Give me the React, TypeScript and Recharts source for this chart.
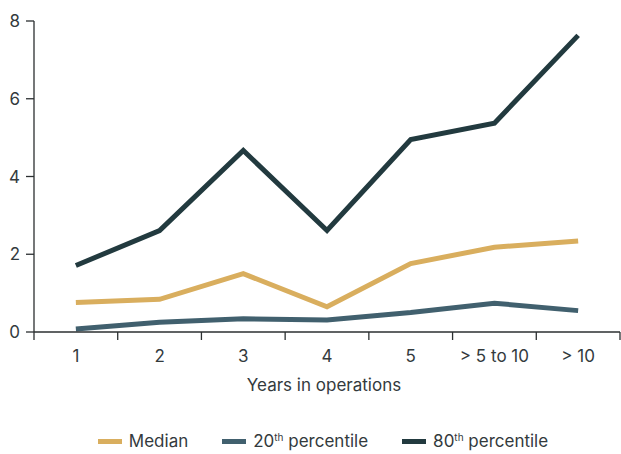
import React from "react";
import { LineChart, Line, XAxis, YAxis, Legend } from "recharts";

const categories = ["1", "2", "3", "4", "5", "> 5 to 10", "> 10"];
const median = [0.76, 0.84, 1.5, 0.65, 1.76, 2.18, 2.34];
const p20 = [0.08, 0.25, 0.34, 0.31, 0.5, 0.74, 0.55];
const p80 = [1.71, 2.61, 4.67, 2.61, 4.95, 5.37, 7.63];
const yTicks = [0, 2, 4, 6, 8];

const TEXT = "#333a3d";
const AXIS = "#2b2f31";
const FONT = "Inter, 'Noto Sans', sans-serif";
const FS = 17;

const series = [
  { key: "median", color: "#D9AE5E", label: "Median", sup: "" },
  { key: "p20", color: "#41606E", label: "20", sup: "th" },
  { key: "p80", color: "#223A3F", label: "80", sup: "th" },
];

const data = categories.map((c, i) => ({
  name: c,
  median: median[i],
  p20: p20[i],
  p80: p80[i],
}));

function XTick(props: any) {
  const { x, y, payload, index } = props;
  const left = payload.coordinate - payload.offset;
  const right = payload.coordinate + payload.offset;
  return (
    <g>
      <line x1={left} x2={left} y1={y - 18} y2={y - 10} stroke={AXIS} strokeWidth={1.3} />
      {index === categories.length - 1 && (
        <line x1={right} x2={right} y1={y - 18} y2={y - 10} stroke={AXIS} strokeWidth={1.3} />
      )}
      <text x={x} y={y} dy="0.71em" textAnchor="middle" fill={TEXT} fontSize={FS} fontFamily={FONT}>
        {payload.value}
      </text>
    </g>
  );
}

function LegendContent() {
  return (
    <div
      style={{
        display: "flex",
        justifyContent: "center",
        alignItems: "center",
        height: 26,
        paddingLeft: 26,
        fontFamily: FONT,
        fontSize: FS,
        color: TEXT,
      }}
    >
      {series.map((s, i) => (
        <div key={s.key} style={{ display: "flex", alignItems: "center", marginLeft: i === 0 ? 0 : 34 }}>
          <span style={{ display: "inline-block", width: 24, height: 5, background: s.color, marginRight: 7 }} />
          <span>
            {s.label}
            {s.sup && <sup style={{ fontSize: 10, verticalAlign: "6px", lineHeight: 0 }}>{s.sup}</sup>}
            {s.sup && " percentile"}
          </span>
        </div>
      ))}
    </div>
  );
}

export default function App() {
  return (
    <div style={{ position: "absolute", left: 0, top: 0, width: 621, height: 454, background: "#fff" }}>
      <LineChart width={621} height={454} data={data} margin={{ top: 21, right: 1, left: 0, bottom: 0 }}>
        <XAxis
          dataKey="name"
          scale="band"
          height={96}
          tickLine={false}
          tickSize={8}
          tickMargin={10}
          interval={0}
          stroke={AXIS}
          strokeWidth={1.3}
          tick={<XTick />}
          label={{ value: "Years in operations", position: "insideBottom", offset: 37, dx: -3, fill: TEXT, fontSize: FS, fontFamily: FONT }}
        />
        <YAxis
          width={34}
          domain={[0, 8]}
          ticks={yTicks}
          tickSize={8}
          tickMargin={6}
          stroke={AXIS}
          strokeWidth={1.3}
          tick={{ fill: TEXT, fontSize: FS, fontFamily: FONT }}
        />
        <Legend verticalAlign="bottom" wrapperStyle={{ height: 26 }} content={<LegendContent />} />
        {series.map((s) => (
          <Line
            key={s.key}
            dataKey={s.key}
            type="linear"
            stroke={s.color}
            strokeWidth={5}
            dot={false}
            activeDot={false}
            isAnimationActive={false}
          />
        ))}
      </LineChart>
    </div>
  );
}
